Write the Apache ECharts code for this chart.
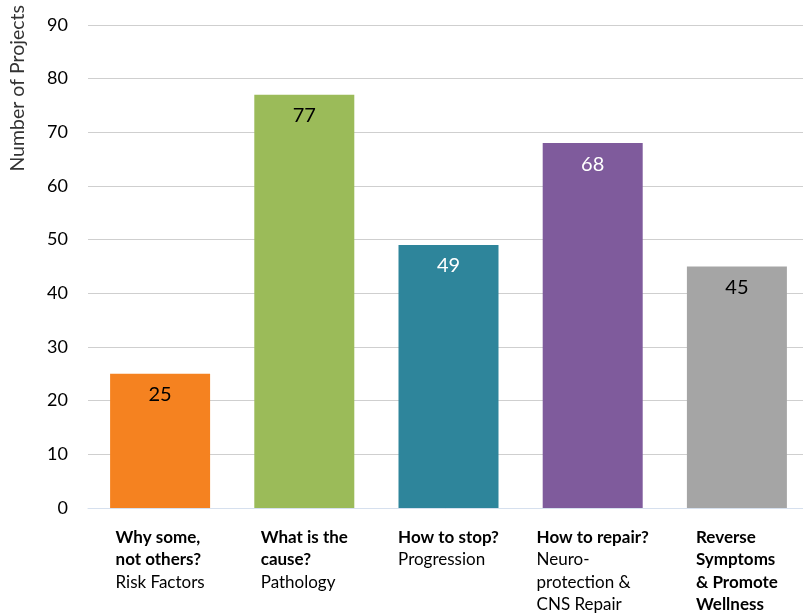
<!DOCTYPE html>
<html>
<head>
<meta charset="utf-8">
<script src="https://cdn.jsdelivr.net/npm/echarts@6/dist/echarts.min.js"></script>
<style>
html,body{margin:0;padding:0;background:#fff;}
#chart{width:803px;height:616px;}
</style>
</head>
<body>
<div id="chart"></div>
<script>
var categories = [
  "{b|Why some,}\n{b|not others?}\n{n|Risk Factors}",
  "{b|What is the}\n{b|cause?}\n{n|Pathology}",
  "{b|How to stop?}\n{n|Progression}",
  "{b|How to repair?}\n{n|Neuro-}\n{n|protection &}\n{n|CNS Repair}",
  "{b|Reverse}\n{b|Symptoms}\n{b|& Promote}\n{b|Wellness}"
];
var values = [25, 77, 49, 68, 45];
var barColors = ["#F58220", "#9BBB59", "#2E859B", "#7F5B9C", "#A5A5A5"];
var labelColors = ["#000000", "#000000", "#FFFFFF", "#FFFFFF", "#000000"];
var yTicks = {min: 0, max: 90, interval: 10};

var FONT = "Lato";
var chart = echarts.init(document.getElementById('chart'));
chart.setOption({
  animation: false,
  backgroundColor: '#ffffff',
  grid: {left: 88, width: 721, top: 25, height: 483, containLabel: false, outerBoundsMode: 'none'},
  xAxis: {
    type: 'category',
    data: categories,
    axisLine: {show: true, lineStyle: {color: '#D6E0EE', width: 1}},
    axisTick: {show: false},
    axisLabel: {
      interval: 0,
      margin: 18,
      align: 'center',
      verticalAlign: 'top',
      color: '#000',
      fontFamily: FONT,
      fontSize: 17,
      lineHeight: 22.5,
      rich: {
        b: {fontWeight: 'bold', fontFamily: FONT, fontSize: 17, lineHeight: 22.5, align: 'left', color: '#000'},
        n: {fontWeight: 'normal', fontFamily: FONT, fontSize: 17, lineHeight: 22.5, align: 'left', color: '#000'}
      }
    }
  },
  yAxis: {
    type: 'value',
    min: yTicks.min, max: yTicks.max, interval: yTicks.interval,
    name: 'Number of Projects',
    nameLocation: 'end',
    nameRotate: 90,
    nameGap: 20,
    nameTextStyle: {
      fontFamily: FONT, fontSize: 19.5, color: '#333',
      align: 'right', verticalAlign: 'bottom',
      padding: [0, 0, 60, 0]
    },
    axisLine: {show: false},
    axisTick: {show: false},
    axisLabel: {margin: 20, color: '#000', fontFamily: FONT, fontSize: 18},
    splitLine: {show: true, lineStyle: {color: '#CFCFCF', width: 1}}
  },
  series: [{
    type: 'bar',
    barWidth: 100,
    data: values.map(function (v, i) {
      return {
        value: v,
        itemStyle: {color: barColors[i]},
        label: {color: labelColors[i]}
      };
    }),
    label: {
      show: true,
      position: 'insideTop',
      distance: 11,
      fontFamily: FONT,
      fontSize: 20
    }
  }]
});
</script>
</body>
</html>
